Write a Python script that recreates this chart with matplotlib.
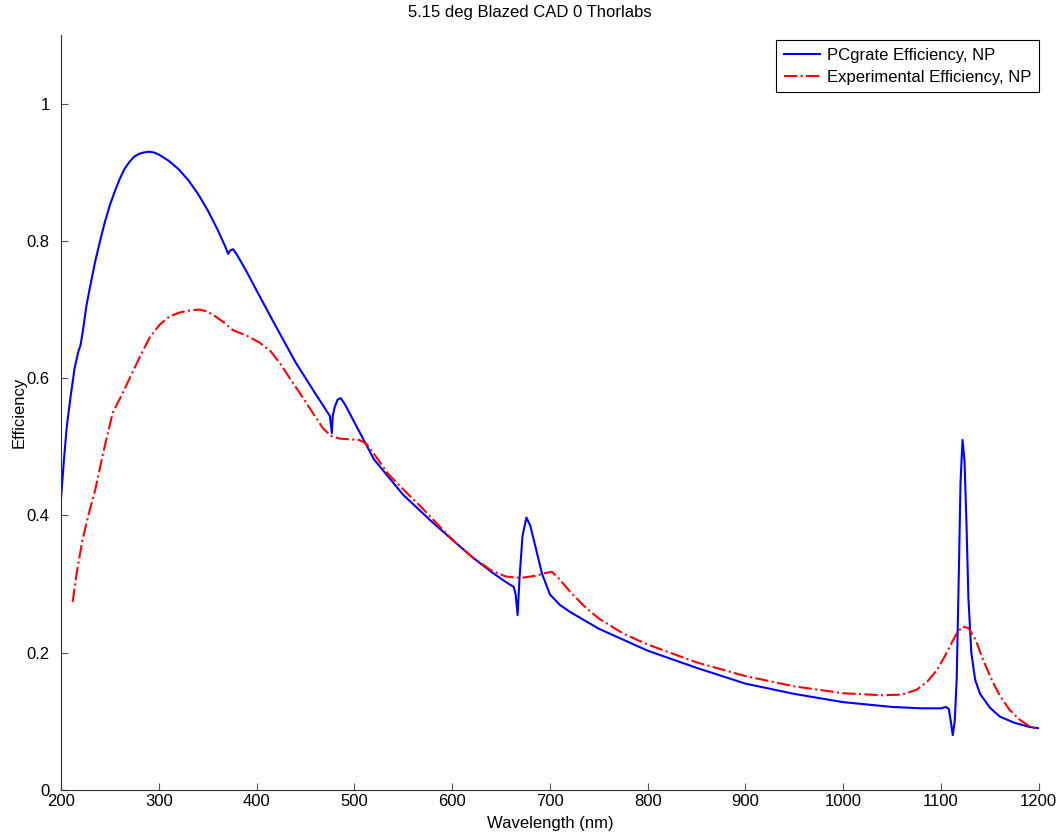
import matplotlib
matplotlib.use("Agg")
import matplotlib.pyplot as plt

plt.rcParams['font.family'] = ['Liberation Sans', 'DejaVu Sans']

# PCgrate simulated efficiency (wavelength nm, efficiency)
pc_wl = [200, 203, 206, 210, 214, 218, 220, 222, 226, 230, 235, 240, 245, 250,
         255, 260, 265, 270, 275, 280, 285, 290, 295, 300, 310, 320, 330, 340,
         350, 360, 368, 371, 373, 376, 380, 390, 400, 420, 440, 460, 470, 475,
         477, 478, 480, 483, 486, 490, 500, 520, 550, 580, 600, 620, 640, 655,
         663, 665, 667, 669, 672, 676, 680, 686, 692, 700, 710, 720, 750, 800,
         850, 900, 950, 1000, 1050, 1080, 1100, 1105, 1108, 1110, 1112, 1114,
         1116, 1118, 1120, 1122, 1124, 1126, 1128, 1131, 1135, 1140, 1150,
         1160, 1175, 1190, 1200]
pc_eff = [0.423, 0.48, 0.53, 0.575, 0.615, 0.64, 0.648, 0.665, 0.705, 0.735,
          0.77, 0.80, 0.828, 0.852, 0.872, 0.89, 0.905, 0.915, 0.923, 0.927,
          0.929, 0.930, 0.929, 0.926, 0.917, 0.905, 0.889, 0.869, 0.845, 0.817,
          0.792, 0.781, 0.786, 0.788, 0.78, 0.755, 0.728, 0.675, 0.623, 0.578,
          0.556, 0.545, 0.52, 0.545, 0.558, 0.569, 0.571, 0.563, 0.536, 0.482,
          0.43, 0.39, 0.365, 0.34, 0.318, 0.303, 0.296, 0.285, 0.255, 0.31,
          0.37, 0.397, 0.385, 0.35, 0.315, 0.285, 0.27, 0.26, 0.235, 0.203,
          0.178, 0.155, 0.14, 0.128, 0.121, 0.119, 0.119, 0.121, 0.118, 0.10,
          0.08, 0.10, 0.16, 0.30, 0.45, 0.51, 0.48, 0.39, 0.28, 0.20, 0.16,
          0.14, 0.12, 0.107, 0.098, 0.092, 0.09]

# Experimental efficiency
ex_wl = [212, 216, 222, 228, 235, 243, 253, 262, 271, 281, 291, 301, 311, 322,
         333, 342, 350, 358, 366, 376, 390, 403, 414, 424, 434, 444, 456, 468,
         476, 485, 495, 505, 512, 520, 535, 550, 570, 600, 620, 640, 655, 670,
         685, 695, 702, 710, 720, 735, 750, 775, 800, 850, 900, 950, 1000,
         1040, 1060, 1075, 1086, 1096, 1104, 1110, 1116, 1122, 1128, 1135,
         1143, 1152, 1160, 1170, 1180, 1190, 1196]
ex_eff = [0.274, 0.315, 0.364, 0.40, 0.437, 0.49, 0.55, 0.575, 0.602, 0.632,
          0.66, 0.678, 0.69, 0.696, 0.699, 0.70, 0.697, 0.69, 0.682, 0.67,
          0.662, 0.652, 0.64, 0.622, 0.60, 0.579, 0.553, 0.527, 0.516, 0.512,
          0.511, 0.51, 0.505, 0.49, 0.46, 0.438, 0.41, 0.365, 0.34, 0.32,
          0.311, 0.309, 0.312, 0.316, 0.318, 0.307, 0.29, 0.268, 0.25, 0.228,
          0.212, 0.186, 0.166, 0.151, 0.141, 0.138, 0.139, 0.146, 0.158, 0.175,
          0.195, 0.212, 0.228, 0.238, 0.236, 0.22, 0.19, 0.16, 0.138, 0.117,
          0.103, 0.093, 0.09]

fig = plt.figure(figsize=(10.6, 8.35), dpi=100)
ax = fig.add_axes([0.0575, 0.0539, 0.9225, 0.9041])

ax.plot(pc_wl, pc_eff, color='#0000ff', lw=1.5, label='PCgrate Efficiency, NP')
ax.plot(ex_wl, ex_eff, color='#ff0000', lw=1.5, ls='-.',
        label='Experimental Efficiency, NP')

ax.set_xlim(200, 1200)
ax.set_ylim(0, 1.1)
ax.set_xticks(range(200, 1201, 100))
ax.set_yticks([0, 0.2, 0.4, 0.6, 0.8, 1])
ax.set_yticklabels(['0', '0.2', '0.4', '0.6', '0.8', '1'])
ax.tick_params(direction='in', length=5, labelsize=12, color='#555555')
ax.tick_params(axis='y', pad=8)
ax.tick_params(axis='x', pad=3)
for s in ['top', 'right']:
    ax.spines[s].set_visible(False)
for s in ['left', 'bottom']:
    ax.spines[s].set_color('#333333')

fig.text(530 / 1060, 1 - 12 / 835, '5.15 deg Blazed CAD 0 Thorlabs',
         fontsize=12, ha='center', va='center')
ax.set_xlabel('Wavelength (nm)', fontsize=12, labelpad=5)
ax.set_ylabel('Efficiency', fontsize=12, labelpad=0)

leg = ax.legend(loc='upper right', fontsize=12, fancybox=False,
                edgecolor='black', framealpha=1, handlelength=2.2,
                handletextpad=0.4, borderaxespad=0.0, borderpad=0.45,
                labelspacing=0.4, bbox_to_anchor=(1.0, 0.993))
leg.get_frame().set_linewidth(0.8)

fig.savefig('out.png', dpi=100)
